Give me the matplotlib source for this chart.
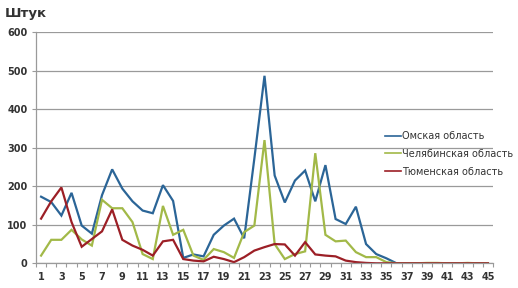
import matplotlib
matplotlib.use("Agg")
import matplotlib.pyplot as plt
from matplotlib.ticker import FixedLocator

weeks = list(range(1, 46))
omsk = [173, 159, 124, 183, 98, 77, 177, 244, 194, 161, 137, 130, 203, 162, 14,
        23, 18, 74, 98, 116, 65, 272, 487, 228, 158, 215, 241, 161, 255, 115,
        102, 147, 50, 24, 13, 0, 0, 0, 0, 0, 0, 0, 0, 0, 0]
cheliab = [20, 61, 61, 87, 62, 46, 165, 143, 143, 107, 24, 11, 149, 74, 87,
           20, 9, 37, 29, 14, 81, 98, 320, 50, 11, 24, 31, 286, 74, 57,
           59, 29, 16, 16, 3, 0, 0, 0, 1, 1, 0, 0, 1, 0, 0]
tyumen = [116, 161, 197, 107, 43, 63, 83, 140, 61, 46, 35, 20, 57, 61, 11,
          7, 5, 17, 11, 3, 16, 33, 42, 50, 49, 20, 55, 23, 20, 18,
          7, 3, 1, 0, 0, 0, 0, 0, 0, 0, 0, 0, 0, 0, 0]
series_names = ["Омская область", "Челябинская область", "Тюменская область"]
y_ticks = [0, 100, 200, 300, 400, 500, 600]
x_labels = list(range(1, 46, 2))
unit_label = "Штук"

colors = ["#2b6597", "#a2b948", "#9c1f26"]
text_color = "#333333"
grid_color = "#9a9a9a"

fig = plt.figure(figsize=(5.18, 2.88), dpi=100)
ax = fig.add_axes([36 / 518, 1 - 263.3 / 288, (493 - 36) / 518, (263.3 - 32.3) / 288])

for vals, c, name in zip([omsk, cheliab, tyumen], colors, series_names):
    ax.plot(weeks, vals, color=c, lw=1.6, label=name, solid_joinstyle="miter")

ax.set_xlim(0.5, 45.5)
ax.set_ylim(0, 600)
ax.set_yticks(y_ticks)
ax.yaxis.grid(True, color=grid_color, lw=0.9)
ax.set_axisbelow(True)
ax.set_xticks(x_labels)
ax.set_xticklabels([str(v) for v in x_labels])
ax.xaxis.set_minor_locator(FixedLocator([i + 0.5 for i in range(0, 46)]))
ax.tick_params(axis="x", which="major", length=0, pad=6, labelsize=7, labelcolor=text_color)
ax.tick_params(axis="x", which="minor", length=3, color=grid_color, width=0.8)
ax.tick_params(axis="y", which="major", length=3, color=grid_color, width=0.8,
               labelsize=7, labelcolor=text_color, pad=3)
for lab in ax.get_xticklabels() + ax.get_yticklabels():
    lab.set_fontweight("bold")

for s in ["top", "right"]:
    ax.spines[s].set_visible(False)
ax.spines["left"].set_color(grid_color)
ax.spines["bottom"].set_color(grid_color)
ax.spines["left"].set_linewidth(0.9)
ax.spines["bottom"].set_linewidth(0.9)

fig.text(5 / 518, 1 - 13 / 288, unit_label, fontsize=9.5, fontweight="bold",
         color=text_color, va="center", ha="left")

leg = fig.legend(loc="upper left", bbox_to_anchor=(385 / 518, 1 - 131 / 288),
                 frameon=False, fontsize=7, handlelength=1.6, handletextpad=0.15,
                 labelspacing=0.8, borderpad=0, borderaxespad=0)
for t in leg.get_texts():
    t.set_color(text_color)
for l in leg.get_lines():
    l.set_linewidth(1.2)

fig.savefig("out.png", dpi=100)
